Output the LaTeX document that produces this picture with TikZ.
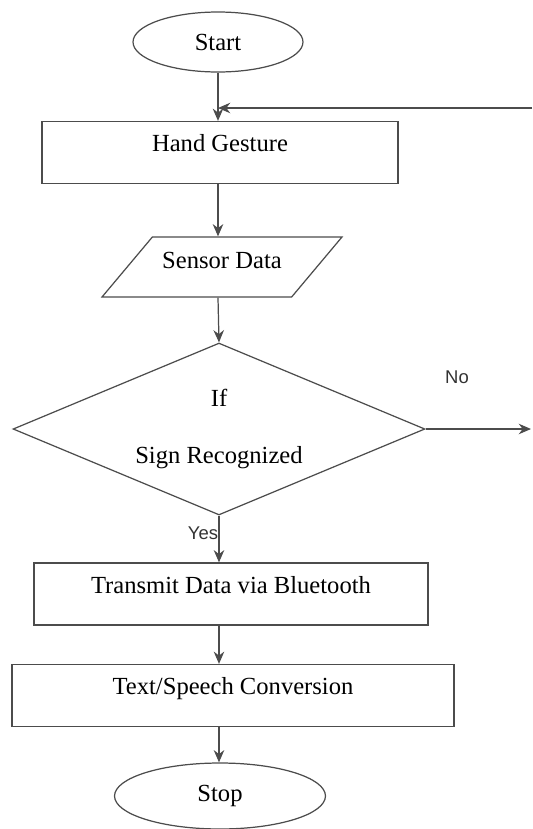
\documentclass[tikz,border=0pt]{standalone}
\usepackage{fontspec}
\setmainfont{Liberation Serif}
\newfontfamily\lblfont{Liberation Sans}
\usetikzlibrary{arrows.meta,shapes.geometric}

\begin{document}
\begin{tikzpicture}[
  x=0.02cm, y=-0.02cm,
  font=\fontsize{14}{16}\selectfont,
  >={Stealth[length=7pt,width=6pt]},
  every node/.style={align=center},
  line/.style={draw=black!70, line width=0.7pt},
  term/.style={line, ellipse, inner sep=0pt},
  box/.style={line, rectangle, inner xsep=0pt, inner ysep=0pt, text height=0.6cm, text depth=0.64cm},
  io/.style={line, trapezium, trapezium left angle=50, trapezium right angle=130,
    trapezium stretches body, inner ysep=0pt, text height=0.62cm, text depth=0.58cm},
  dec/.style={line, diamond, aspect=2.4, inner sep=0pt},
  lbl/.style={font=\lblfont\fontsize{10.5}{12}\selectfont, text=black!80},
  arr/.style={->, line}
]
\useasboundingbox (0,0) rectangle (532,829);

% terminals
\node[term, minimum width=3.4cm, minimum height=1.2cm] (start) at (218,42) {Start};
\node[term, minimum width=4.22cm, minimum height=1.32cm] (stop) at (220,796) {Stop};

% process steps
\node[box, minimum width=7.12cm] (hand) at (220,152.5) {Hand Gesture};
\node[io, minimum width=4.8cm] (sensor) at (222,267) {Sensor Data};
\node[dec, minimum width=8.24cm, minimum height=3.44cm] (check) at (219,429) {If\\[0.56cm]Sign Recognized};
\node[box, minimum width=7.88cm] (send) at (231,594) {Transmit Data via Bluetooth};
\node[box, minimum width=8.84cm] (conv) at (233,695.5) {Text/Speech Conversion};

% branch labels
\node[lbl] (no) at (457,377) {No};
\node[lbl] (yes) at (203,533) {Yes};

% loop ends at the picture edge
\coordinate (loopin) at (532,108);
\coordinate (noout) at (531,429);

\draw[arr] (start) -- (start |- hand.north);
\draw[arr] (loopin) -- (loopin -| start);
\draw[arr] (start |- hand.south) -- (start |- sensor.north);
\draw[arr] (start |- sensor.south) -- (check.north);
\draw[arr] (check.east) -- (noout);
\draw[arr] (check.south) -- (check.south |- send.north);
\draw[arr] (check.south |- send.south) -- (check.south |- conv.north);
\draw[arr] (check.south |- conv.south) -- (check.south |- stop.north);
\end{tikzpicture}
\end{document}
